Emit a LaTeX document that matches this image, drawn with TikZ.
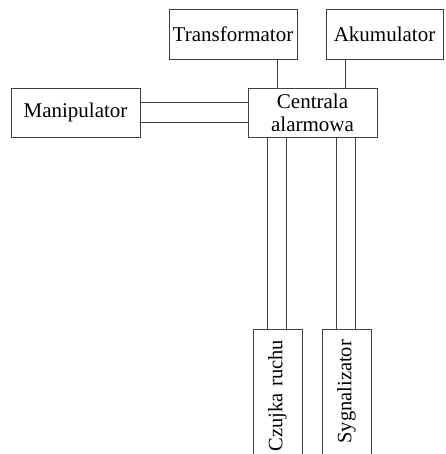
\documentclass[tikz,border=0pt]{standalone}
\usepackage{fontspec}
\setmainfont{Liberation Serif}
\begin{document}
\begin{tikzpicture}[x=1pt,y=1pt,
  box/.style={draw=black!75, line width=0.8pt, inner sep=0pt, align=center,
    font=\fontsize{21}{23}\selectfont},
  wire/.style={draw=black!75, line width=0.8pt}]
\useasboundingbox (0,0) rectangle (445,-454);
\begin{scope}
\clip (0,0) rectangle (445,-454);
\node[box, minimum width=128, minimum height=50] (trans) at (233,-34) {Transformator};
\node[box, minimum width=117, minimum height=50] (akum) at (384.5,-34) {Akumulator};
\node[box, minimum width=129, minimum height=49] (manip) at (75.5,-112.5) {Manipulator};
\node[box, minimum width=129, minimum height=49] (cent) at (312.5,-112.5) {Centrala\\alarmowa};
\node[box, rotate=90, minimum width=141, minimum height=49, text width=119, inner xsep=11pt, align=right, font=\fontsize{20.5}{23}\selectfont] (czuj) at (277.5,-399.5) {Czujka ruchu};
\node[box, rotate=90, minimum width=141, minimum height=49, text width=119, inner xsep=11pt, align=right, font=\fontsize{20.5}{23}\selectfont] (syg) at (346.5,-399.5) {Sygnalizator};
% power lines
\draw[wire] ([xshift=30pt]cent.north west) -- ([xshift=30pt]cent.north west |- trans.south);
\draw[wire] ([xshift=98pt]cent.north west) -- ([xshift=98pt]cent.north west |- akum.south);
% manipulator double line
\draw[wire] ([yshift=-15pt]manip.north east) -- ([yshift=-15pt]manip.north east -| cent.west);
\draw[wire] ([yshift=-35pt]manip.north east) -- ([yshift=-35pt]manip.north east -| cent.west);
% down lines
\draw[wire] ([xshift=20pt]cent.south west) -- ([xshift=20pt]cent.south west |- czuj.east);
\draw[wire] ([xshift=39pt]cent.south west) -- ([xshift=39pt]cent.south west |- czuj.east);
\draw[wire] ([xshift=89pt]cent.south west) -- ([xshift=89pt]cent.south west |- syg.east);
\draw[wire] ([xshift=108pt]cent.south west) -- ([xshift=108pt]cent.south west |- syg.east);
\end{scope}
\end{tikzpicture}
\end{document}
